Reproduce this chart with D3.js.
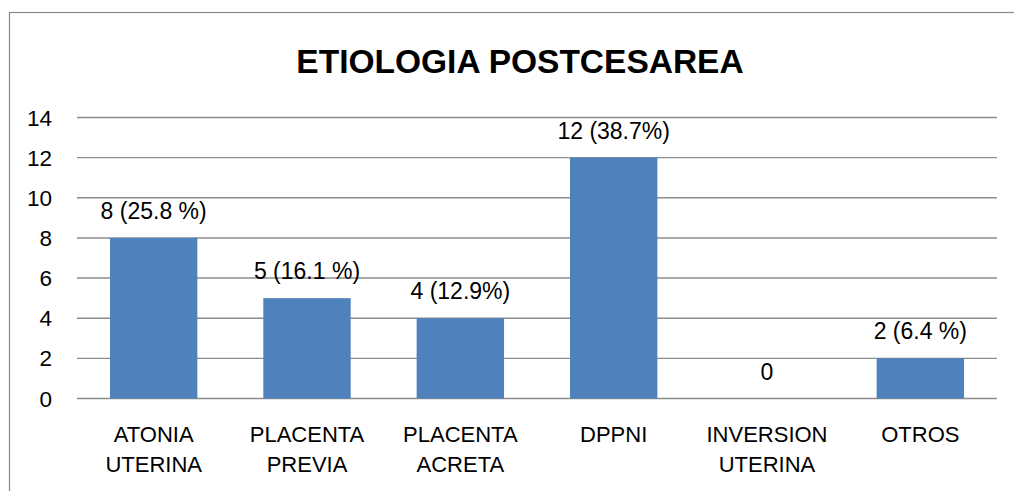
<!DOCTYPE html>
<html>
<head>
<meta charset="utf-8">
<script src="https://cdn.jsdelivr.net/npm/d3@7"></script>
<style>
    body { margin: 0; background: #fff; }
    svg text { font-family: "Liberation Sans", Arial, sans-serif; fill: #000; }
</style>
</head>
<body>
<svg id="chart" width="1014" height="491"></svg>
<script>
const categories = [["ATONIA", "UTERINA"], ["PLACENTA", "PREVIA"], ["PLACENTA", "ACRETA"], ["DPPNI"], ["INVERSION", "UTERINA"], ["OTROS"]];
const values = [8, 5, 4, 12, 0, 2];
const valueLabels = ["8 (25.8 %)", "5 (16.1 %)", "4 (12.9%)", "12 (38.7%)", "0", "2 (6.4 %)"];
const yTicks = [0, 2, 4, 6, 8, 10, 12, 14];
const title = "ETIOLOGIA POSTCESAREA";

const margin = {top: 117.5, left: 77, right: 17, bottom: 92.5};
const width = 1014, height = 491;

const svg = d3.select("#chart");

// chart frame (right and bottom edge fall outside the picture)
svg.append("rect")
    .attr("x", 9.5)
    .attr("y", 12.5)
    .attr("width", 1040)
    .attr("height", 500)
    .attr("fill", "none")
    .attr("stroke", "#8a8a8a")
    .attr("stroke-width", 1.2);

const x = d3.scaleBand()
    .domain(d3.range(categories.length))
    .range([margin.left, width - margin.right])
    .paddingInner(0.43)
    .paddingOuter(0.215);

const y = d3.scaleLinear()
    .domain([0, 14])
    .range([height - margin.bottom, margin.top]);

// gridlines
svg.append("g")
    .selectAll("line")
    .data(yTicks)
    .enter()
    .append("line")
    .attr("x1", margin.left)
    .attr("x2", width - margin.right)
    .attr("y1", d => y(d))
    .attr("y2", d => y(d))
    .attr("stroke", "#8c8c8c")
    .attr("stroke-width", 1.4);

// y tick labels
svg.append("g")
    .selectAll("text")
    .data(yTicks)
    .enter()
    .append("text")
    .attr("x", 52)
    .attr("y", d => y(d) + 8)
    .attr("text-anchor", "end")
    .attr("font-size", 22.5)
    .text(d => d);

// bars
svg.append("g")
    .selectAll("rect")
    .data(values)
    .enter()
    .append("rect")
    .attr("x", (d, i) => x(i))
    .attr("y", d => y(d))
    .attr("width", x.bandwidth())
    .attr("height", d => y(0) - y(d))
    .attr("fill", "#4f81bd");

// value labels
svg.append("g")
    .selectAll("text")
    .data(values)
    .enter()
    .append("text")
    .attr("x", (d, i) => x(i) + x.bandwidth() / 2)
    .attr("y", d => y(d) - 19)
    .attr("text-anchor", "middle")
    .attr("font-size", 23)
    .text((d, i) => valueLabels[i]);

// category labels
const cat = svg.append("g")
    .selectAll("text")
    .data(categories)
    .enter()
    .append("text")
    .attr("x", (d, i) => x(i) + x.bandwidth() / 2)
    .attr("y", 442)
    .attr("text-anchor", "middle")
    .attr("font-size", 22);

cat.selectAll("tspan")
    .data(d => d)
    .enter()
    .append("tspan")
    .attr("x", function() { return d3.select(this.parentNode).attr("x"); })
    .attr("dy", (d, i) => i === 0 ? 0 : 30)
    .text(d => d);

svg.append("text")
    .attr("x", 520)
    .attr("y", 73)
    .attr("text-anchor", "middle")
    .attr("font-size", 33.5)
    .attr("font-weight", "bold")
    .text(title);
</script>
</body>
</html>
